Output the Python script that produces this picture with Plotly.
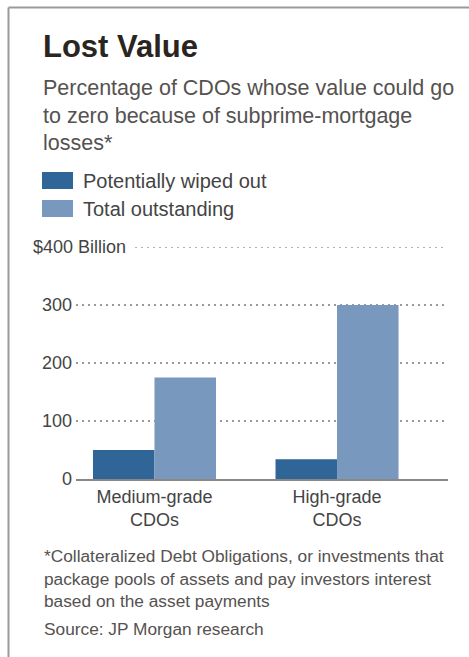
import plotly.graph_objects as go

categories = ["Medium-grade<br>CDOs", "High-grade<br>CDOs"]
wiped_out = [50, 34]
total_outstanding = [175, 300]
series_names = ["Potentially wiped out", "Total outstanding"]
tick_vals = [0, 100, 200, 300]
tick_text = ["0", "100", "200", "300"]
top_tick_val = 400
top_tick_text = "$400 Billion"

DARK = "#2f6597"
LIGHT = "#7899bd"
FONT = "Liberation Sans, Arial, sans-serif"
GRID_DASH = "2px,4px"

W, H = 469, 657
L, R, T, B = 76, 448, 247, 479


def px(x):
    return (x - L) / (R - L)


def py(y):
    return (B - y) / (B - T)


fig = go.Figure()
fig.add_trace(go.Bar(x=categories, y=wiped_out, name=series_names[0],
                     marker=dict(color=DARK, line=dict(width=0))))
fig.add_trace(go.Bar(x=categories, y=total_outstanding, name=series_names[1],
                     marker=dict(color=LIGHT, line=dict(width=0))))

shapes = []
# frame
shapes.append(dict(type="line", xref="paper", yref="paper", x0=px(8.5), x1=px(470), y0=py(7.5), y1=py(7.5),
                   line=dict(color="#9a9a9a", width=2)))
shapes.append(dict(type="line", xref="paper", yref="paper", x0=px(8.5), x1=px(8.5), y0=py(7.5), y1=py(660),
                   line=dict(color="#9a9a9a", width=2)))
# legend swatches
shapes.append(dict(type="rect", xref="paper", yref="paper", x0=px(42), x1=px(73), y0=py(172), y1=py(189),
                   fillcolor=DARK, line=dict(width=0)))
shapes.append(dict(type="rect", xref="paper", yref="paper", x0=px(42), x1=px(73), y0=py(200), y1=py(217),
                   fillcolor=LIGHT, line=dict(width=0)))
# top gridline (after the $400 Billion label)
shapes.append(dict(type="line", xref="paper", yref="y", x0=px(135), x1=px(443), y0=top_tick_val, y1=top_tick_val,
                   line=dict(color="#9a9a9a", width=1.5, dash=GRID_DASH), layer="below"))

ann = []
ann.append(dict(text="<b>Lost Value</b>", x=px(41), y=py(46), xanchor="left", yanchor="middle",
                font=dict(family=FONT, size=31, color="#2a2520")))
sub_lines = ["Percentage of CDOs whose value could go",
             "to zero because of subprime-mortgage",
             "losses*"]
for i, s in enumerate(sub_lines):
    ann.append(dict(text=s, x=px(41), y=py(88 + 27.7 * i), xanchor="left", yanchor="middle",
                    font=dict(family=FONT, size=21.5, color="#555250")))
for i, s in enumerate(series_names):
    ann.append(dict(text=s, x=px(81), y=py(181 + 28 * i), xanchor="left", yanchor="middle",
                    font=dict(family=FONT, size=20, color="#444444")))
ann.append(dict(text=top_tick_text, x=px(31), y=top_tick_val, yref="y", xanchor="left", yanchor="middle",
                font=dict(family=FONT, size=18, color="#444444")))
foot_lines = ["*Collateralized Debt Obligations, or investments that",
              "package pools of assets and pay investors interest",
              "based on the asset payments"]
for i, s in enumerate(foot_lines):
    ann.append(dict(text=s, x=px(42), y=py(556 + 22.5 * i), xanchor="left", yanchor="middle",
                    font=dict(family=FONT, size=17.3, color="#555250")))
ann.append(dict(text="Source: JP Morgan research", x=px(42), y=py(629), xanchor="left", yanchor="middle",
                font=dict(family=FONT, size=17.3, color="#555250")))
for a in ann:
    a.setdefault("xref", "paper")
    a.setdefault("yref", "paper")
    a["showarrow"] = False

fig.update_layout(
    width=W, height=H,
    margin=dict(l=L, r=W - R, t=T, b=H - B, pad=0),
    paper_bgcolor="white", plot_bgcolor="white",
    barmode="group", bargap=0.326, bargroupgap=0,
    showlegend=False,
    shapes=shapes, annotations=ann,
    xaxis=dict(range=[-0.43, 1.608], showgrid=False, showline=True, linecolor="#8c8782", linewidth=2,
               ticks="", tickfont=dict(family=FONT, size=18, color="#444444"), fixedrange=True),
    yaxis=dict(range=[0, 400], tickvals=tick_vals, ticktext=tick_text, showgrid=True,
               gridcolor="#9a9a9a", gridwidth=1.5, griddash=GRID_DASH, zeroline=False, showline=False,
               ticks="", ticklabelstandoff=3, tickfont=dict(family=FONT, size=18, color="#444444"),
               fixedrange=True),
)

fig.write_html("out.html", config={"displayModeBar": False},
               post_script="document.body.style.margin='0';document.body.style.overflow='hidden';")
